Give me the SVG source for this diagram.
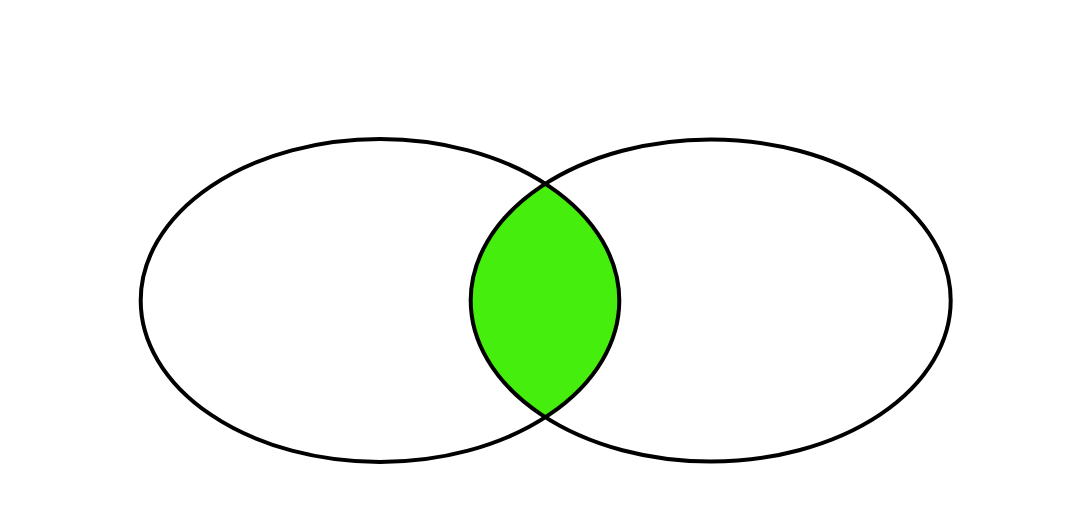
<svg xmlns="http://www.w3.org/2000/svg" width="1076" height="528" viewBox="0 0 1076 528">
  <style>
    .outline { fill: none; stroke: #000; stroke-width: 4; }
    .overlap { fill: #46EE0E; }
  </style>
  <defs>
    <clipPath id="clipRight">
      <ellipse cx="710.7" cy="300.5" rx="240" ry="161"/>
    </clipPath>
  </defs>
  <rect width="1076" height="528" fill="#fff"/>
  <g id="intersection">
    <ellipse class="overlap" cx="380" cy="300.5" rx="239.3" ry="161.5" clip-path="url(#clipRight)"/>
  </g>
  <g id="set-left">
    <ellipse class="outline" cx="380" cy="300.5" rx="239.3" ry="161.5"/>
  </g>
  <g id="set-right">
    <ellipse class="outline" cx="710.7" cy="300.5" rx="240" ry="161"/>
  </g>
  <g id="connectors"></g>
</svg>
